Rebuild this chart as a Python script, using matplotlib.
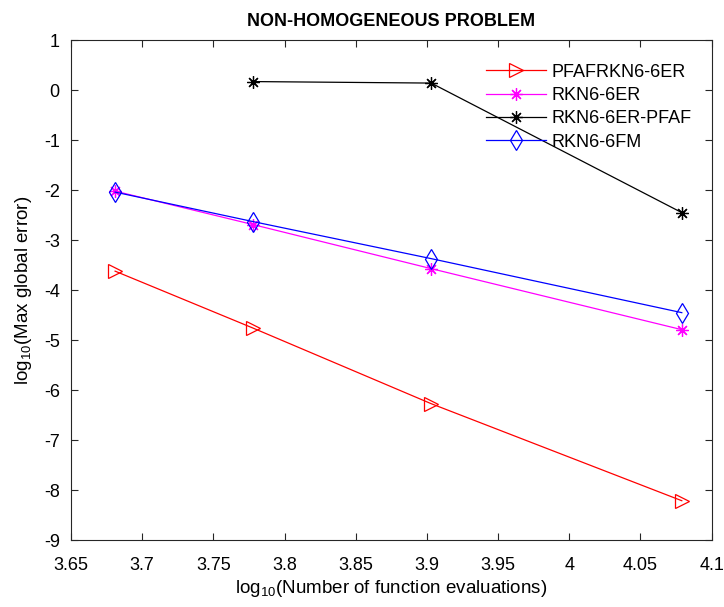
import numpy as np
import matplotlib
matplotlib.use("Agg")
from matplotlib import pyplot as plt

plt.rcParams['font.family'] = ['Liberation Sans', 'DejaVu Sans']
plt.rcParams['axes.unicode_minus'] = False
plt.rcParams['mathtext.fontset'] = 'custom'
plt.rcParams['mathtext.rm'] = 'Liberation Sans'

# log10 of function evaluations
x_all = [3.681, 3.778, 3.903, 4.079]
x_pfaf = [3.778, 3.903, 4.079]

pfafrkn = [-3.62, -4.76, -6.27, -8.21]
rkn_er = [-2.02, -2.69, -3.57, -4.79]
rkn_er_pfaf = [0.17, 0.14, -2.45]
rkn_fm = [-2.04, -2.63, -3.37, -4.45]

fig = plt.figure(figsize=(7.24, 6.07), dpi=100)
ax = fig.add_axes([0.098, 0.110, 0.885, 0.824])

ax.plot(x_all, pfafrkn, color='red', lw=0.9, marker='>', ms=10, mfc='none', mew=0.9, label='PFAFRKN6-6ER')
ax.plot(x_all, rkn_er, color='magenta', lw=0.9, marker=(8, 2, 0), ms=9, mew=0.9, label='RKN6-6ER')
ax.plot(x_pfaf, rkn_er_pfaf, color='black', lw=0.9, marker=(8, 2, 0), ms=9, mew=0.9, label='RKN6-6ER-PFAF')
ax.plot(x_all, rkn_fm, color='blue', lw=0.9, marker='d', ms=10, mfc='none', mew=0.9, label='RKN6-6FM')

ax.set_xlim(3.65, 4.1)
ax.set_ylim(-9, 1)
ax.set_xticks(np.arange(3.65, 4.101, 0.05))
ax.set_xticklabels(['3.65', '3.7', '3.75', '3.8', '3.85', '3.9', '3.95', '4', '4.05', '4.1'])
ax.set_yticks(range(-9, 2))
ax.tick_params(direction='in', top=True, right=True, labelsize=13, length=5, color='#262626')
ax.tick_params(axis='x', pad=12)
ax.tick_params(axis='y', pad=8)
for s in ax.spines.values():
    s.set_color('#262626')
    s.set_linewidth(0.8)

ax.set_xlabel(r'log$_{10}$(Number of function evaluations)', fontsize=13.5, labelpad=3)
ax.set_ylabel(r'log$_{10}$(Max global error)', fontsize=13.5, labelpad=7)
ax.set_title('NON-HOMOGENEOUS PROBLEM', fontsize=13, fontweight='bold', pad=10)

ax.legend(loc='upper left', frameon=False, fontsize=13, bbox_to_anchor=(0.623, 0.985),
          handlelength=3.3, handletextpad=0.3, labelspacing=0.35)

fig.savefig('out.png', dpi=100)
